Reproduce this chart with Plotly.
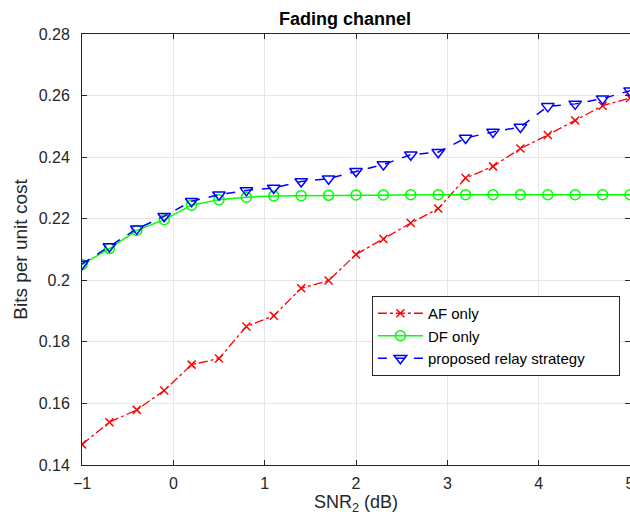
import plotly.graph_objects as go

snr_db = [-1.0, -0.7, -0.4, -0.1, 0.2, 0.5, 0.8, 1.1, 1.4, 1.7, 2.0,
          2.3, 2.6, 2.9, 3.2, 3.5, 3.8, 4.1, 4.4, 4.7, 5.0]

af_only = [0.1467, 0.1539, 0.1579, 0.1642, 0.1726, 0.1746, 0.1850, 0.1885,
           0.1974, 0.1999, 0.2084, 0.2134, 0.2186, 0.2233, 0.2332, 0.2370,
           0.2428, 0.2472, 0.2519, 0.2567, 0.2592]

df_only = [0.2051, 0.2103, 0.2162, 0.2197, 0.2244, 0.2262, 0.2270, 0.2274,
           0.2275, 0.2276, 0.2277, 0.2277, 0.2278, 0.2278, 0.2278, 0.2278,
           0.2278, 0.2278, 0.2278, 0.2278, 0.2278]

proposed = [0.2053, 0.2110, 0.2167, 0.2208, 0.2257, 0.2278, 0.2292, 0.2300,
            0.2321, 0.2330, 0.2354, 0.2376, 0.2408, 0.2416, 0.2462, 0.2482,
            0.2498, 0.2565, 0.2573, 0.2590, 0.2616]

series_names = ["AF only", "DF only", "proposed relay strategy"]

x_ticks = [-1, 0, 1, 2, 3, 4, 5]
y_ticks = [0.14, 0.16, 0.18, 0.2, 0.22, 0.24, 0.26, 0.28]
y_tick_text = ["0.14", "0.16", "0.18", "0.2", "0.22", "0.24", "0.26", "0.28"]

fig = go.Figure()
fig.add_trace(go.Scatter(
    x=snr_db, y=af_only, name=series_names[0], mode="lines+markers",
    line=dict(color="#ff0000", width=1.3, dash="dashdot"),
    marker=dict(symbol="x-thin", size=8, color="#ff0000",
                line=dict(color="#ff0000", width=1.5)),
))
fig.add_trace(go.Scatter(
    x=snr_db, y=df_only, name=series_names[1], mode="lines+markers",
    line=dict(color="#00ff00", width=1.5),
    marker=dict(symbol="circle-open", size=10, color="#00ff00",
                line=dict(color="#00ff00", width=1.5)),
))
fig.add_trace(go.Scatter(
    x=snr_db, y=proposed, name=series_names[2] + "\u00a0" * 7,
    mode="lines+markers",
    line=dict(color="#0000ff", width=1.5, dash="dash"),
    marker=dict(symbol="triangle-down-open", size=11, color="#0000ff",
                line=dict(color="#0000ff", width=1.5)),
))

axis_common = dict(
    showgrid=True, gridcolor="#e6e6e6", gridwidth=1,
    showline=True, linecolor="#262626", linewidth=1, mirror="ticks",
    ticks="inside", ticklen=5, tickcolor="#262626",
    tickfont=dict(size=16, color="#262626"),
    zeroline=False, automargin=True, ticklabeloverflow="allow",
)

fig.update_layout(
    width=630, height=525,
    paper_bgcolor="white", plot_bgcolor="white",
    margin=dict(l=82, r=0, t=34, b=60, autoexpand=False),
    font=dict(family="Liberation Sans, Arial, sans-serif", color="#262626"),
    title=dict(text="<b>Fading channel</b>", x=0.48, xref="paper", xanchor="center",
               y=1 - 19 / 525, yref="container", yanchor="middle",
               font=dict(size=18, color="#000000")),
    xaxis=dict(range=[-1, 5], tickvals=x_ticks, ticklabelstandoff=4,
               title=dict(text="SNR<sub>2</sub> (dB)", font=dict(size=18), standoff=3),
               **axis_common),
    yaxis=dict(range=[0.14, 0.28], tickvals=y_ticks, ticktext=y_tick_text,
               ticklabelstandoff=8,
               title=dict(text="Bits per unit cost", font=dict(size=19), standoff=6),
               **axis_common),
    legend=dict(x=0.529, y=0.2993, xanchor="left", yanchor="middle",
                bgcolor="white", bordercolor="#262626", borderwidth=1,
                font=dict(size=15, color="#000000"),
                tracegroupgap=0, itemwidth=45),
    showlegend=True,
)

fig.write_html(
    "out.html",
    config={"displayModeBar": False},
    post_script="document.body.style.margin='0';document.body.style.overflow='hidden';",
)
